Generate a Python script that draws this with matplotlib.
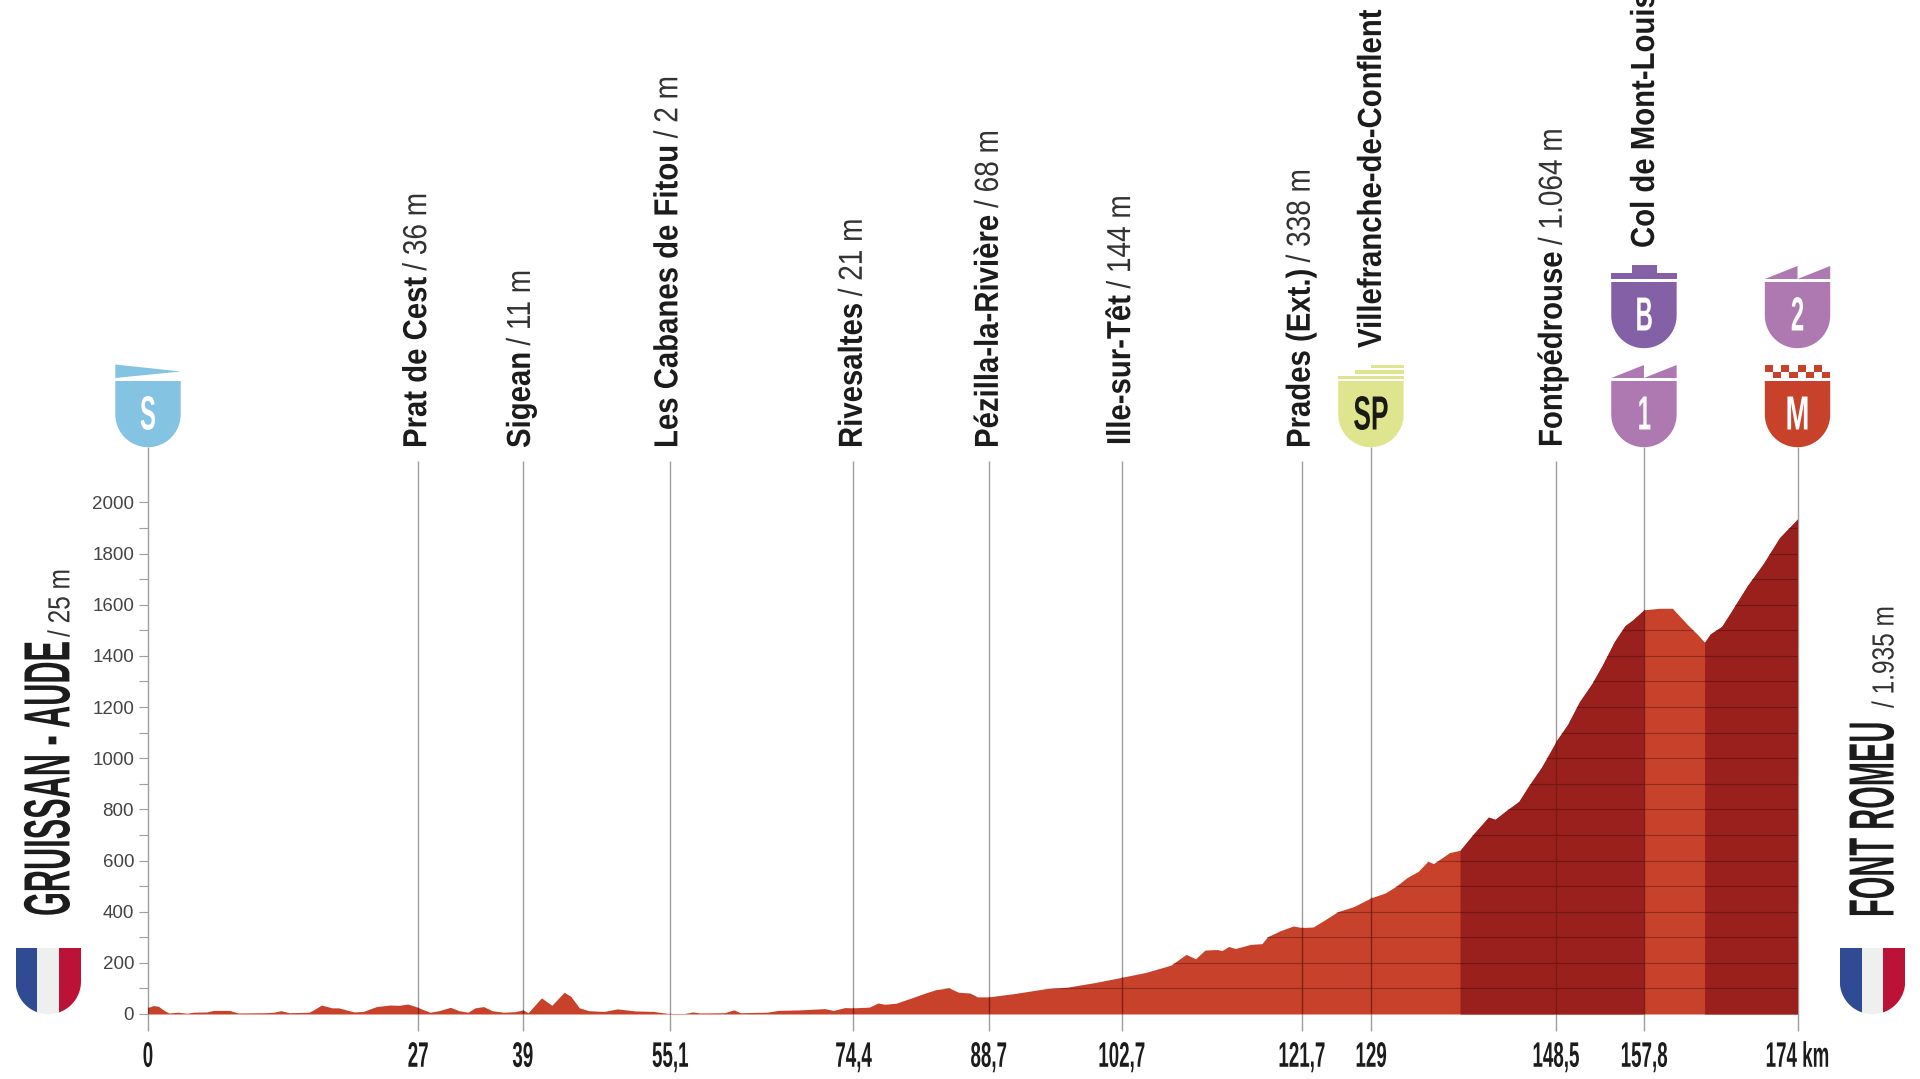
# -*- coding: utf-8 -*-
"""Stage profile: Gruissan - Aude to Font Romeu."""

import numpy as np
import matplotlib
matplotlib.use("Agg")
import matplotlib.pyplot as plt
from matplotlib.patches import Polygon, Rectangle
from matplotlib.patheffects import AbstractPathEffect
from matplotlib.transforms import Affine2D

# ====== Data ======
profile_km = [0, 0.56, 1.1, 1.74, 2.2, 3.15, 4.1, 4.8, 6.2, 6.9, 8.6, 9.5, 12.3, 13.3, 14, 14.9, 17, 17.5,
              18.3, 19.4, 20.1, 21.75, 22.7, 24.1, 25.5, 26.5, 27.4, 28.1, 29.05, 29.75, 30.7, 31.9, 32.8,
              33.75, 34.5, 35.4, 36.3, 37.5, 38.7, 39.55, 40.1, 41.5, 42.6, 43.9, 44.6, 45.5, 46.5, 48.1,
              49.5, 51.4, 53.3, 54.9, 56.6, 57.5, 58.2, 60.8, 61.8, 62.5, 65.3, 66.5, 68.7, 71.4, 72.3,
              73.5, 74.4, 76.1, 77, 77.7, 78.9, 80.55, 82, 83.1, 84.5, 85.5, 86.7, 87.5, 88.7, 91.4, 94.7,
              97, 99.9, 102.8, 105.3, 107.9, 109.5, 110.5, 111.5, 112.8, 113.3, 114, 114.7, 116.3, 117.5,
              118.1, 119.4, 120.8, 121.7, 122.9, 124.1, 125.5, 127.2, 129, 130.5, 131.6, 132.8, 134, 135,
              135.6, 137.3, 138.4, 139.85, 141.4, 142.1, 143.3, 144.6, 145.66, 147, 148.67, 149.75, 151,
              152.3, 153.4, 154.7, 155.8, 156.6, 157.8, 159.4, 160.8, 162.4, 163.5, 164.2, 164.8, 166, 167,
              168.7, 170.4, 172.1, 174]
profile_alt = [25, 33, 30, 13, 4, 7, 3, 7, 8, 14, 14, 4, 5, 7, 13, 5, 7, 17,
               35, 24, 24, 8, 10, 29, 35, 34, 39, 31, 17, 7, 13, 26, 13,
               7, 24, 29, 13, 7, 9, 16, 5, 63, 34, 85, 69, 24, 13, 10,
               20, 12, 10, 2, 2, 8, 4, 5, 16, 5, 7, 14, 16, 21, 14,
               25, 24, 27, 43, 38, 42, 63, 82, 95, 102, 85, 82, 67, 67, 80, 99,
               105, 123, 144, 163, 191, 233, 216, 250, 252, 248, 264, 256, 272, 275,
               302, 325, 344, 338, 340, 367, 400, 420, 454, 473, 498, 533, 558, 597,
               588, 631, 640, 705, 770, 761, 796, 831, 893, 965, 1074, 1132, 1221,
               1291, 1363, 1457, 1518, 1540, 1580, 1586, 1586, 1522, 1482, 1453, 1486, 1515, 1573,
               1674, 1761, 1862, 1935]

dark_sections = [(138.4, 157.8), (164.2, 174)]

# positions on the drawn scale, the printed km are kept as text
station_pos = [0, 28.5, 39.55, 55.1, 74.4, 88.7, 102.7, 121.7, 129, 148.5, 157.8, 174]
station_km = ["0", "27", "39", "55,1", "74,4", "88,7", "102,7", "121,7", "129", "148,5", "157,8", "174 km"]
station_has_shield = [True, False, False, False, False, False, False, False, True, False, True, True]

place_pos = [28.5, 39.55, 55.1, 74.4, 88.7, 102.7, 121.7, 129, 148.5, 157.8]
place_names = ["Prat de Cest", "Sigean", "Les Cabanes de Fitou", "Rivesaltes", "Pézilla-la-Rivière",
               "Ille-sur-Têt", "Prades (Ext.)", "Villefranche-de-Conflent", "Fontpédrouse", "Col de Mont-Louis"]
place_heights = ["/ 36 m", "/ 11 m", "/ 2 m", "/ 21 m", "/ 68 m", "/ 144 m", "/ 338 m", "", "/ 1.064 m", ""]
place_bottom = [448, 448, 448, 448, 448, 445, 448, 348, 447, 248]
place_shift = [8, 7, 7, 8.5, 9, 8.5, 8, 10, 6, 10]

alt_major = list(range(0, 2001, 200))
alt_minor = list(range(100, 2000, 200))

# ====== Colours ======
RED = "#C8412A"
DARK_RED = "#99201C"
LINE_GREY = "#9E9E9E"
TEXT = "#1C1C1C"

# ====== Page scale (px per km / px per m) ======
W, H = 1920, 1079
X0, PX_KM = 148.0, 9.48
Y0, PX_M = 1014.0, 0.2558

fig = plt.figure(figsize=(W / 100, H / 100), dpi=100)
ax = fig.add_axes([0, 0, 1, 1])
ax.patch.set_visible(False)
ax.set_xlim(-X0 / PX_KM, (W - X0) / PX_KM)
ax.set_ylim(-(H - Y0) / PX_M, Y0 / PX_M)

# page pixels, origin top left, for decorations and free text
page = Affine2D().scale(1 / W, -1 / H).translate(0, 1) + fig.transFigure
renderer = fig.canvas.get_renderer()


class Squeeze(AbstractPathEffect):
    """Narrow the glyphs along the text direction (no condensed font installed)."""

    def __init__(self, sx, centre=False):
        super().__init__()
        self.sx = sx
        self.centre = centre

    def draw_path(self, renderer, gc, tpath, affine, rgbFace=None):
        mid = 0.0
        if self.centre:
            ext = tpath.get_extents()
            mid = (ext.x0 + ext.x1) / 2
        squeeze = Affine2D().translate(-mid, 0).scale(self.sx, 1).translate(mid, 0)
        renderer.draw_path(gc, tpath, squeeze + affine, rgbFace)


def km_px(km):
    return X0 + PX_KM * km


def vertical_text(x, y, text, size, weight, sx, color=TEXT):
    return ax.text(x, y, text, transform=page, rotation=90, rotation_mode="anchor",
                   ha="left", va="baseline", fontsize=size, fontweight=weight, color=color,
                   family="Liberation Sans", path_effects=[Squeeze(sx)], zorder=6, clip_on=True)


def two_part_label(x, y, name, height, size=24, sx=0.88, sx_light=0.84, gap=6):
    t = vertical_text(x, y, name, size, "bold", sx)
    if height:
        length = t.get_window_extent(renderer).height * sx
        vertical_text(x, y - length - gap, height, size, "normal", sx_light, color="#333333")


# ====== Profile ======
km = np.array(profile_km)
alt = np.array(profile_alt)
base = ax.fill_between(km, alt, 0, color=RED, lw=0, zorder=2)
for start, end in dark_sections:
    ax.fill_between(km, alt, 0, where=(km >= start) & (km <= end), color=DARK_RED, lw=0, zorder=2.1)

profile_path = base.get_paths()[0]
grid = ax.hlines(list(range(100, 2000, 100)), 0, 174, color="black", alpha=0.28, lw=0.8, zorder=3)
grid.set_clip_path(profile_path, ax.transData)

# ====== Station lines ======
tops = [2217 if s else 2160 for s in station_has_shield]
ax.vlines(station_pos, -68, tops, color=LINE_GREY, lw=1.0, zorder=1)
inner = ax.vlines(station_pos, 0, tops, color="#6E1A14", alpha=0.8, lw=1.0, zorder=3.1)
inner.set_clip_path(profile_path, ax.transData)

# ====== Axes ======
for name in ["top", "right", "left", "bottom"]:
    ax.spines[name].set_visible(False)
ax.spines["left"].set_position(("data", 0))
ax.spines["bottom"].set_position(("data", 0))
ax.set_yticks(alt_major)
ax.set_yticks(alt_minor, minor=True)
ax.set_yticklabels([str(v) for v in alt_major], family="Liberation Sans", fontsize=13.5, color="#444444")
ax.tick_params(axis="y", which="both", length=6.5, width=0.8, color=LINE_GREY, pad=3.5)
ax.set_xticks(station_pos)
ax.set_xticklabels(station_km, family="Liberation Sans", fontweight="bold", fontsize=25.5, color=TEXT)
ax.tick_params(axis="x", length=0, pad=38)
for label in ax.get_xticklabels():
    label.set_va("baseline")
    label.set_path_effects([Squeeze(0.53, centre=True)])

# ====== Place labels ======
for pos, name, height, bottom, shift in zip(place_pos, place_names, place_heights, place_bottom, place_shift):
    two_part_label(km_px(pos) + shift, bottom, name, height)

# ====== Start / finish titles ======
two_part_label(69.4, 916, "GRUISSAN - AUDE", "", size=47, sx=0.47)
vertical_text(69.4, 637, "/ 25 m", 22, "normal", 0.8, color="#333333")
two_part_label(1893.5, 917, "FONT ROMEU", "", size=46, sx=0.455)
vertical_text(1893.5, 708, "/ 1.935 m", 22, "normal", 0.8, color="#333333")


# ====== Shields ======
def shield_points(cx, top):
    r = 32.7
    angles = np.linspace(0, np.pi, 40)
    arc = np.column_stack([cx + r * np.cos(angles), top + 33.5 + r * np.sin(angles)])
    return np.vstack([[cx + r, top], arc, [cx - r, top]])


def add_patch(points, color, z=5):
    ax.add_patch(Polygon(points, closed=True, facecolor=color, edgecolor="none", transform=page, zorder=z, clip_on=True))


def shield(cx, top, color, letter, letter_color="white", sx=0.5):
    add_patch(shield_points(cx, top), color)
    ax.text(cx, top + 48.5, letter, transform=page, ha="center", va="baseline", fontsize=34.5, fontweight="bold",
            family="Liberation Sans", color=letter_color, path_effects=[Squeeze(sx, centre=True)], zorder=6)


def teeth(cx, top, color):
    left = cx - 32.7
    for i in range(2):
        x0 = left + i * 32.7
        add_patch([[x0, top - 3], [x0 + 32.7, top - 16], [x0 + 32.7, top - 3]], color)


LOW, HIGH = 381, 282

# start
cx = km_px(0)
shield(cx, LOW, "#85C3E2", "S")
add_patch([[cx - 32.7, LOW - 16.5], [cx + 32.7, LOW - 9.5], [cx - 32.7, LOW - 3]], "#85C3E2")

# sprint
cx = km_px(129)
shield(cx, LOW, "#DFE58F", "SP", letter_color="#1A1A14", sx=0.55)
for dx, y0, y1 in [(33, -16, -13.3), (16.5, -11, -7), (0, -5, -1.7)]:
    add_patch([[cx - 32.7 + dx, LOW + y0], [cx + 32.7, LOW + y0], [cx + 32.7, LOW + y1], [cx - 32.7 + dx, LOW + y1]],
              "#DFE58F")

# climbs at 157,8
cx = km_px(157.8)
shield(cx, LOW, "#AE78B0", "1")
teeth(cx, LOW, "#AE78B0")
shield(cx, HIGH, "#8460A6", "B")
add_patch([[cx - 32.7, HIGH - 9.5], [cx + 32.7, HIGH - 9.5], [cx + 32.7, HIGH - 3], [cx - 32.7, HIGH - 3]], "#8460A6")
add_patch([[cx - 12, HIGH - 17], [cx + 13, HIGH - 17], [cx + 13, HIGH - 9.5], [cx - 12, HIGH - 9.5]], "#8460A6")

# finish
cx = km_px(174)
shield(cx, HIGH, "#AE78B0", "2")
teeth(cx, HIGH, "#AE78B0")
shield(cx, LOW, RED, "M", sx=0.6)
cell = 65.4 / 8
for col in range(8):
    y_top = LOW - 16 if col % 2 == 0 else LOW - 9.3
    x0 = cx - 32.7 + col * cell
    add_patch([[x0, y_top], [x0 + cell, y_top], [x0 + cell, y_top + 6.7], [x0, y_top + 6.7]], RED)


# ====== Flags ======
def flag(cx, top):
    outline = Polygon(shield_points(cx, top), closed=True, facecolor="none", edgecolor="none", transform=page)
    ax.add_patch(outline)
    for i, color in enumerate(["#2F4B93", "#EEF0F0", "#BC1237"]):
        bar = Rectangle((cx - 32.7 + i * 21.8, top), 21.8, 67, facecolor=color, edgecolor="none", transform=page, zorder=5)
        ax.add_patch(bar)
        bar.set_clip_path(outline)


flag(48.3, 948)
flag(1872.5, 948)

fig.savefig("out.png", dpi=100)
